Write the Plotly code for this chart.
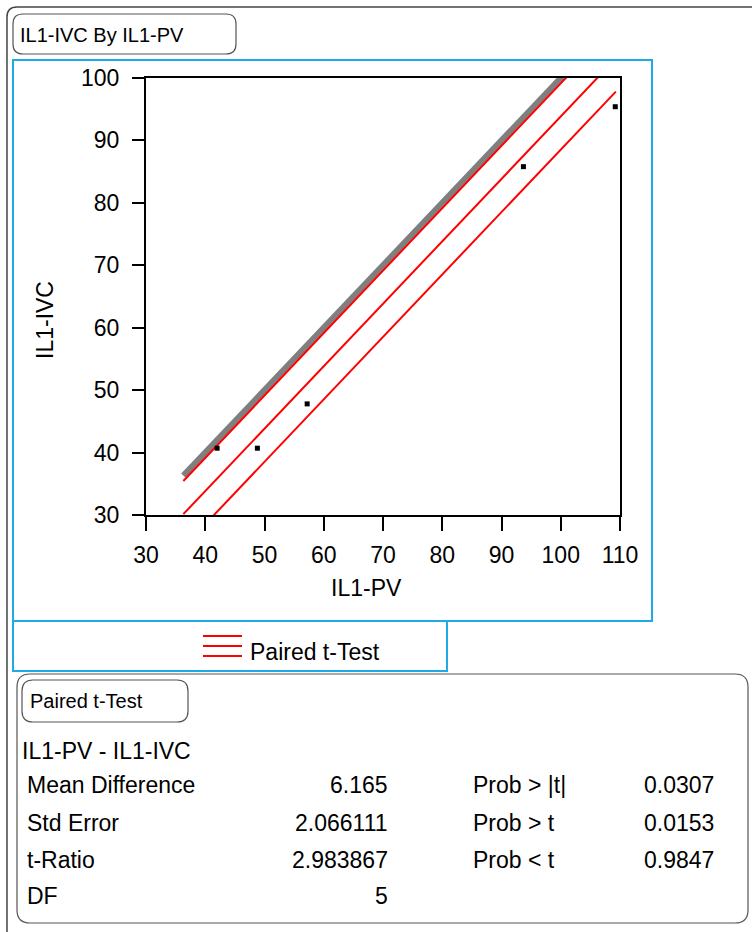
import plotly.graph_objects as go

# ---------------- data ----------------
pv_values = [42.0, 48.8, 57.2, 93.7, 109.2]      # IL1-PV (x)
ivc_values = [40.7, 40.7, 47.8, 85.8, 95.4]      # IL1-IVC (y)
line_x_span = [36.3, 109.3]                      # extent of reference lines
mean_difference = 6.165
std_error = 2.066111
t_critical = 2.570582                             # t(0.975, df=5)

x_ticks = [30, 40, 50, 60, 70, 80, 90, 100, 110]
y_ticks = [30, 40, 50, 60, 70, 80, 90, 100]

table_title = "IL1-PV - IL1-IVC"
row_labels = ["Mean Difference", "Std Error", "t-Ratio", "DF"]
row_values = ["6.165", "2.066111", "2.983867", "5"]
prob_labels = ["Prob > |t|", "Prob > t", "Prob < t"]
prob_values = ["0.0307", "0.0153", "0.9847"]

# ---------------- geometry helpers ----------------
W, H = 752, 932
ML, MR, MT, MB = 146, 132, 78, 417
PW, PH = W - ML - MR, H - MT - MB
FONT = "Liberation Sans, Arial, sans-serif"
BLUE = "#1eaae7"
FS = 23


def px(x):
    return (x - ML) / PW


def py(y):
    return (H - MB - y) / PH


def rounded_path(x0, y0, x1, y1, r):
    pts = [
        ("M", [(x0 + r, y0)]),
        ("L", [(x1 - r, y0)]),
        ("Q", [(x1, y0), (x1, y0 + r)]),
        ("L", [(x1, y1 - r)]),
        ("Q", [(x1, y1), (x1 - r, y1)]),
        ("L", [(x0 + r, y1)]),
        ("Q", [(x0, y1), (x0, y1 - r)]),
        ("L", [(x0, y0 + r)]),
        ("Q", [(x0, y0), (x0 + r, y0)]),
    ]
    s = ""
    for cmd, ps in pts:
        s += cmd + " " + " ".join(f"{px(a):.5f},{py(b):.5f}" for a, b in ps) + " "
    return s + "Z"


fig = go.Figure()

# identity (reference) line
fig.add_trace(go.Scatter(
    x=line_x_span, y=line_x_span, mode="lines",
    line=dict(color="#7f7f7f", width=6), hoverinfo="skip", showlegend=False))

# paired t-test lines: mean difference and its confidence limits
half_width = t_critical * std_error
for off in [mean_difference - half_width, mean_difference, mean_difference + half_width]:
    fig.add_trace(go.Scatter(
        x=line_x_span, y=[v - off for v in line_x_span], mode="lines",
        line=dict(color="#ff0000", width=2), hoverinfo="skip", showlegend=False))

# data points
fig.add_trace(go.Scatter(
    x=pv_values, y=ivc_values, mode="markers",
    marker=dict(symbol="square", size=5, color="black"), showlegend=False))

shapes = []
# outer frame (top-left rounded corner, continues off the page)
shapes.append(dict(type="path", xref="paper", yref="paper",
                   path=f"M {px(7):.5f},{py(945):.5f} L {px(7):.5f},{py(17):.5f} "
                        f"Q {px(7):.5f},{py(7):.5f} {px(17):.5f},{py(7):.5f} L {px(770):.5f},{py(7):.5f}",
                   line=dict(color="#444444", width=1.5)))
# title box
shapes.append(dict(type="path", xref="paper", yref="paper",
                   path=rounded_path(13, 14, 236, 54, 10),
                   line=dict(color="#555555", width=1.2)))
# blue plot frame
shapes.append(dict(type="rect", xref="paper", yref="paper",
                   x0=px(13), y0=py(60), x1=px(652), y1=py(621),
                   line=dict(color=BLUE, width=2)))
# blue legend frame
shapes.append(dict(type="rect", xref="paper", yref="paper",
                   x0=px(13), y0=py(621), x1=px(447), y1=py(671),
                   line=dict(color=BLUE, width=2)))
# legend line samples
for ly in [636, 646, 656]:
    shapes.append(dict(type="line", xref="paper", yref="paper",
                       x0=px(203), y0=py(ly), x1=px(242), y1=py(ly),
                       line=dict(color="#ff0000", width=2)))
# table box
shapes.append(dict(type="path", xref="paper", yref="paper",
                   path=rounded_path(17, 674, 748, 923, 13),
                   line=dict(color="#555555", width=1.2)))
# table title box
shapes.append(dict(type="path", xref="paper", yref="paper",
                   path=rounded_path(22, 680, 188, 722, 11),
                   line=dict(color="#555555", width=1.2)))

ann = []


def text(t, x, y, xanchor="left", size=FS, angle=0):
    ann.append(dict(text=t, x=px(x), y=py(y), xref="paper", yref="paper",
                    xanchor=xanchor, yanchor="middle", showarrow=False,
                    textangle=angle, font=dict(family=FONT, size=size, color="black")))


text("IL1-IVC By IL1-PV", 18, 35, size=20)
text("IL1-PV", 366, 588, xanchor="center")
text("IL1-IVC", 45, 320, xanchor="center", angle=-90)
text("Paired t-Test", 248, 652)
text("Paired t-Test", 28, 701, size=20)
text(table_title, 20, 751)
row_y = [785, 822.5, 859.5, 896]
for i, (lab, val) in enumerate(zip(row_labels, row_values)):
    text(lab, 25, row_y[i])
    text(val, 390, row_y[i], xanchor="right")
for i, (lab, val) in enumerate(zip(prob_labels, prob_values)):
    text(lab, 471, row_y[i])
    text(val, 716, row_y[i], xanchor="right")

axis_common = dict(
    showline=True, linecolor="black", linewidth=2, mirror=True,
    ticks="outside", tickcolor="black", tickwidth=2,
    showgrid=False, zeroline=False,
    tickfont=dict(family=FONT, size=FS, color="black"),
)

fig.update_layout(
    width=W, height=H,
    margin=dict(l=ML, r=MR, t=MT, b=MB),
    paper_bgcolor="white", plot_bgcolor="white",
    xaxis=dict(range=[30, 110], tickvals=x_ticks, ticklen=14,
               ticklabelstandoff=4, **axis_common),
    yaxis=dict(range=[30, 100], tickvals=y_ticks, ticklen=12,
               ticklabelstandoff=8, **axis_common),
    shapes=shapes, annotations=ann, showlegend=False,
)

fig.write_html("out.html")
